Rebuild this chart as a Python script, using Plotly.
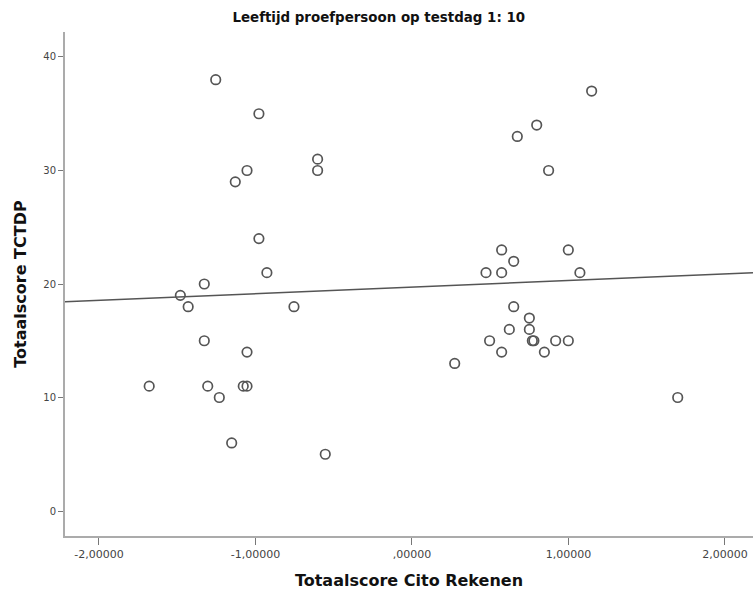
import numpy as np
import plotly.graph_objects as go

# Totaalscore Cito Rekenen (z-score) and Totaalscore TCTDP per proefpersoon
cito_rekenen = [
    -1.254, -0.978, -0.603, -0.603, -1.054, -1.129, -0.978, -0.927, -1.327,
    -1.480, -1.430, -0.754, -1.327, -1.054, -1.679, -1.305, -1.078, -1.054,
    -1.231, -1.152, -0.554,
    1.148, 0.797, 0.673, 0.873, 0.573, 0.999, 0.650, 0.473, 0.573, 1.073,
    0.650, 0.750, 0.622, 0.750, 0.496, 0.769, 0.779, 0.918, 0.999, 0.573,
    0.846, 0.273, 1.698,
]
tctdp = [
    38, 35, 31, 30, 30, 29, 24, 21, 20,
    19, 18, 18, 15, 14, 11, 11, 11, 11,
    10, 6, 5,
    37, 34, 33, 30, 23, 23, 22, 21, 21, 21,
    18, 17, 16, 16, 15, 15, 15, 15, 15, 14,
    14, 13, 10,
]

x_tickvals = [-2, -1, 0, 1, 2]
x_ticktext = ["-2,00000", "-1,00000", ",00000", "1,00000", "2,00000"]
y_tickvals = [0, 10, 20, 30, 40]

x_range = [-2.217, 2.179]
y_range = [-2.2, 42.2]

# least-squares fit line across the full x range
slope, intercept = np.polyfit(cito_rekenen, tctdp, 1)
fit_x = np.array(x_range)
fit_y = intercept + slope * fit_x

fig = go.Figure()
fig.add_trace(go.Scatter(
    x=fit_x, y=fit_y, mode="lines",
    line=dict(color="#555555", width=1.5),
    hoverinfo="skip", showlegend=False,
))
fig.add_trace(go.Scatter(
    x=cito_rekenen, y=tctdp, mode="markers",
    marker=dict(symbol="circle-open", size=9.5, color="#555555",
                line=dict(width=1.7, color="#555555")),
    showlegend=False,
))

font_family = "DejaVu Sans, Verdana, sans-serif"

fig.update_layout(
    width=753, height=594,
    margin=dict(l=65, r=0, t=32, b=58),
    paper_bgcolor="white", plot_bgcolor="white",
    font=dict(family=font_family, color="#222222"),
    title=dict(
        text="<b>Leeftijd proefpersoon op testdag 1: 10</b>",
        x=0.503, xanchor="center", y=0.971, yanchor="middle",
        font=dict(size=13.4, color="#111111", family=font_family),
    ),
    xaxis=dict(
        range=x_range, tickvals=x_tickvals, ticktext=x_ticktext,
        showgrid=False, zeroline=False,
        showline=True, linecolor="#ababab", linewidth=2,
        ticks="outside", ticklen=7, tickwidth=1.2, tickcolor="#777777",
        tickfont=dict(size=11, color="#444444"),
        title=dict(text="<b>Totaalscore Cito Rekenen</b>",
                   font=dict(size=16, color="#111111"), standoff=15),
    ),
    yaxis=dict(
        range=y_range, tickvals=y_tickvals,
        showgrid=False, zeroline=False,
        showline=True, linecolor="#ababab", linewidth=2,
        ticks="outside", ticklen=5, tickwidth=1.2, tickcolor="#777777",
        tickfont=dict(size=10, color="#444444"),
        title=dict(text="<b>Totaalscore TCTDP</b>",
                   font=dict(size=16, color="#111111"), standoff=13),
    ),
)

fig.write_html("out.html")
